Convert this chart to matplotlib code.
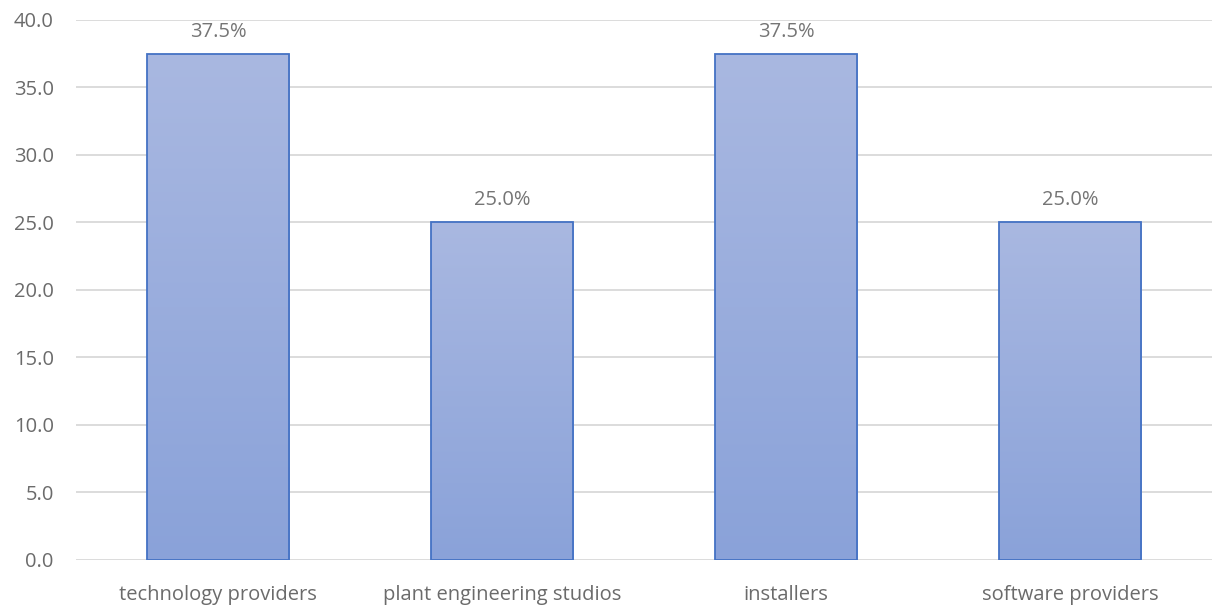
import numpy as np
import matplotlib.pyplot as plt
from matplotlib.colors import LinearSegmentedColormap

categories = ["technology providers", "plant engineering studios", "installers", "software providers"]
values = [37.5, 25.0, 37.5, 25.0]
labels = ["37.5%", "25.0%", "37.5%", "25.0%"]

plt.rcParams['font.family'] = ['Open Sans', 'DejaVu Sans']

fig = plt.figure(figsize=(12.12, 6.05), dpi=100)
ax = fig.add_axes([0.0627, 0.0744, 0.9373, 0.8926])

x = np.arange(len(categories))
bars = ax.bar(x, values, width=0.5, color="none", edgecolor="#4472C4", linewidth=1.3, zorder=3)

# vertical gradient inside each bar
cmap = LinearSegmentedColormap.from_list("grad", ["#8AA2D9", "#A9B8E1"])
grad = np.linspace(0, 1, 256).reshape(-1, 1)
for b in bars:
    x0, w, h = b.get_x(), b.get_width(), b.get_height()
    im = ax.imshow(grad, cmap=cmap, origin="lower", aspect="auto",
                   extent=[x0, x0 + w, 0, h], zorder=2)
    im.set_clip_path(b)

for xi, v, lab in zip(x, values, labels):
    ax.text(xi, v + 0.9, lab, ha="center", va="bottom", fontsize=14.5, color="#757575")

ax.set_xlim(-0.5, len(categories) - 0.5)
ax.set_ylim(0, 40)
ax.set_yticks(np.arange(0, 41, 5))
ax.set_yticklabels([f"{t:.1f}" for t in np.arange(0, 41, 5)])
ax.set_xticks(x)
ax.set_xticklabels(categories)
ax.tick_params(axis="both", length=0, labelsize=14.5, colors="#6b6b6b")
ax.tick_params(axis="x", pad=18)
ax.tick_params(axis="y", pad=16)
ax.grid(axis="y", color="#D9D9D9", linewidth=1.3, zorder=0)
ax.set_axisbelow(True)
for s in ax.spines.values():
    s.set_visible(False)

fig.savefig("out.png", dpi=100)
